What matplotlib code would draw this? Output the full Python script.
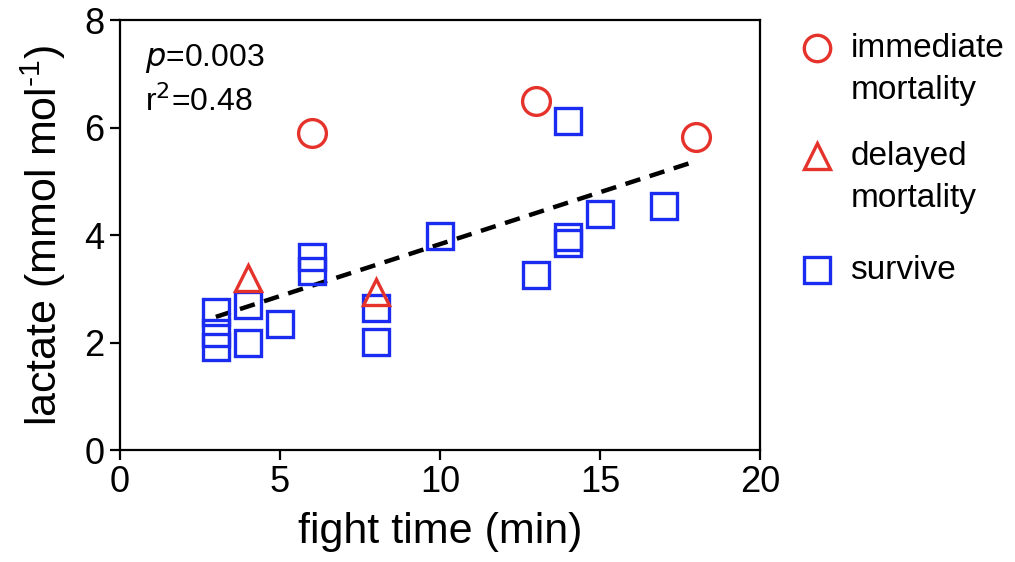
import matplotlib; matplotlib.use("Agg")
import matplotlib.pyplot as plt

plt.rcParams['font.family'] = ['Liberation Sans', 'DejaVu Sans']

# fight time (min) and lactate (mmol mol-1) per outcome
imm_x = [6, 13, 18]
imm_y = [5.90, 6.50, 5.83]
del_x = [4, 8]
del_y = [3.20, 2.95]
surv_x = [3, 3, 3, 4, 4, 5, 6, 6, 8, 8, 10, 13, 14, 14, 14, 15, 17]
surv_y = [2.57, 2.18, 1.92, 2.70, 2.00, 2.34, 3.60, 3.34, 2.65, 2.01, 3.98, 3.26, 6.12, 3.96, 3.86, 4.39, 4.54]
# regression line end points
fit_x = [3, 18]
fit_y = [2.48, 5.38]

RED = "#e5322b"; BLUE = "#1b2cf2"
ms = 19; mew = 2.4

fig = plt.figure(figsize=(10.15, 5.62), dpi=100)
ax = fig.add_axes([0.118, 0.199, 0.631, 0.765])

ax.plot(fit_x, fit_y, ls=(0, (3.5, 2.2)), color="k", lw=3.2, zorder=2)
ax.plot(surv_x, surv_y, "s", ms=ms, mfc="none", mec=BLUE, mew=mew, ls="", zorder=3)
ax.plot(del_x, del_y, "^", ms=ms, mfc="none", mec=RED, mew=mew, ls="", zorder=4)
ax.plot(imm_x, imm_y, "o", ms=ms + 1, mfc="none", mec=RED, mew=mew, ls="", zorder=4)

ax.set_xlim(0, 20); ax.set_ylim(0, 8)
ax.set_xticks([0, 5, 10, 15, 20]); ax.set_yticks([0, 2, 4, 6, 8])
for s in ax.spines.values(): s.set_linewidth(1.6)
ax.tick_params(direction="out", length=7, width=1.6, labelsize=26, pad=4)
ax.set_xlabel("fight time (min)", fontsize=31, labelpad=8)
ax.set_ylabel("lactate (mmol mol$^{\\mathregular{\u20101}}$)", fontsize=31, labelpad=12)

ax.text(0.04, 0.91, "$p$=0.003", transform=ax.transAxes, fontsize=23, va="center")
ax.text(0.04, 0.81, "r$^2$=0.48", transform=ax.transAxes, fontsize=23, va="center")

# legend drawn by hand so markers line up with the first text line
lg = fig.add_axes([0.775, 0.0, 0.225, 1.0]); lg.set_axis_off()
lg.set_xlim(0, 1); lg.set_ylim(0, 1)
entries = [("o", RED, "immediate\nmortality", 0.915),
           ("^", RED, "delayed\nmortality", 0.723),
           ("s", BLUE, "survive", 0.52)]
for m, c, lab, y in entries:
    lg.plot([0.135], [y], m, ms=ms, mfc="none", mec=c, mew=mew, clip_on=False)
    lg.text(0.28, y + 0.026, lab, fontsize=24, va="top", linespacing=1.45)

fig.savefig("out.png", dpi=100)
